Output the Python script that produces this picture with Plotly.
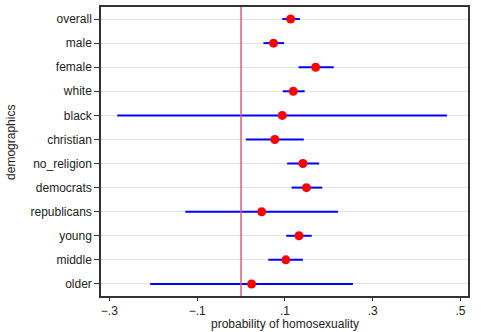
import plotly.graph_objects as go

# coefficient estimates with 95% confidence intervals
groups = ["overall", "male", "female", "white", "black", "christian",
          "no_religion", "democrats", "republicans", "young", "middle", "older"]
estimate = [0.113, 0.074, 0.170, 0.119, 0.094, 0.077,
            0.141, 0.149, 0.047, 0.132, 0.102, 0.024]
ci_low = [0.094, 0.051, 0.131, 0.095, -0.282, 0.011,
          0.105, 0.115, -0.127, 0.103, 0.062, -0.207]
ci_high = [0.134, 0.098, 0.211, 0.145, 0.469, 0.143,
           0.178, 0.185, 0.221, 0.161, 0.141, 0.255]

tick_vals = [-0.3, -0.1, 0.1, 0.3, 0.5]
tick_text = ["\u2212.3", "\u2212.1", ".1", ".3", ".5"]

fig = go.Figure()

# CI lines
for g, lo, hi in zip(groups, ci_low, ci_high):
    fig.add_trace(go.Scatter(x=[lo, hi], y=[g, g], mode="lines",
                             line=dict(color="#0000ff", width=2),
                             showlegend=False, hoverinfo="skip"))

# point estimates
fig.add_trace(go.Scatter(x=estimate, y=groups, mode="markers",
                         marker=dict(color="#ff0000", size=9),
                         showlegend=False))

# reference line at zero
fig.add_vline(x=0, line=dict(color="#d6607a", width=1.5))

axis_font = dict(family="Liberation Sans, Arial, sans-serif", size=12, color="#222")

fig.update_layout(
    width=481, height=332,
    margin=dict(l=101, r=13, t=7, b=36),
    plot_bgcolor="white", paper_bgcolor="white",
    font=axis_font,
    xaxis=dict(range=[-0.319, 0.517], tickvals=tick_vals, ticktext=tick_text,
               ticks="outside", ticklen=3, tickcolor="#333", showgrid=False,
               zeroline=False, showline=True, linecolor="#333", linewidth=1.5,
               mirror=True, automargin=False),
    yaxis=dict(categoryorder="array", categoryarray=groups[::-1],
               range=[-0.5, 11.5], automargin=False,
               ticks="outside", ticklen=5, tickcolor="#333",
               showgrid=True, gridcolor="#e3e3e3", gridwidth=1.2,
               zeroline=False, showline=True, linecolor="#333", linewidth=1.5,
               mirror=True),
    annotations=[
        dict(text="probability of homosexuality", xref="paper", yref="paper",
             x=0.5, y=-36 / 289, xanchor="center", yanchor="bottom",
             borderpad=0, showarrow=False, font=dict(size=12)),
        dict(text="demographics", xref="paper", yref="paper", textangle=-90,
             x=-0.245, y=0.53, xanchor="center", yanchor="middle",
             showarrow=False, font=dict(size=12)),
    ],
)

# drop the browser's default body margin so the figure sits at the top-left
fig.write_html("out.html", config={"displayModeBar": False},
               post_script="document.body.style.margin='0';")
